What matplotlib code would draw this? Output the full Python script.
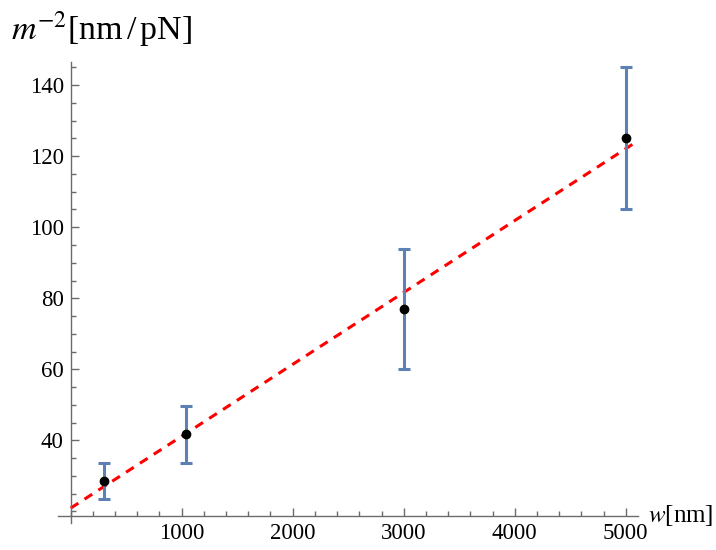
import matplotlib
matplotlib.use("Agg")
import matplotlib.pyplot as plt
from matplotlib.ticker import MultipleLocator

plt.rcParams["font.family"] = ["Liberation Serif", "DejaVu Serif"]
plt.rcParams["mathtext.fontset"] = "stix"

# measured points (w in nm, m^-2 in nm/pN) with error half-widths
w = [300, 1040, 3000, 5000]
m2 = [28.6, 41.7, 77.0, 125.2]
m2_err = [5.0, 8.0, 17.0, 20.0]

# linear fit endpoints
fit_w = [0, 5108]
fit_m2 = [20.9, 124.3]

x_ticks = [1000, 2000, 3000, 4000, 5000]
y_ticks = [40, 60, 80, 100, 120, 140]

axis_col = "#6b6b6b"
bar_col = "#5e81b5"

fig = plt.figure(figsize=(7.16, 5.5), dpi=100)
ax = fig.add_axes([0.081, 0.049, 0.8097, 0.8387])

ax.plot(fit_w, fit_m2, color="red", lw=2.2, ls=(0, (3.0, 2.4)), zorder=2)
ax.errorbar(w, m2, yerr=m2_err, fmt="none", ecolor=bar_col, elinewidth=2.2,
            capsize=4.5, capthick=2.2, zorder=3)
ax.plot(w, m2, "o", color="black", ms=6, zorder=4)

ax.set_xlim(-114, 5108)
ax.set_ylim(16.7, 146.6)

# Mathematica-style axes crossing at (0, 18.8)
for s in ["top", "right"]:
    ax.spines[s].set_visible(False)
ax.spines["left"].set_position(("data", 0))
ax.spines["bottom"].set_position(("data", 18.8))
for s in ["left", "bottom"]:
    ax.spines[s].set_color(axis_col)
    ax.spines[s].set_linewidth(1.0)

ax.set_xticks(x_ticks)
ax.set_yticks(y_ticks)
ax.xaxis.set_minor_locator(MultipleLocator(200))
ax.yaxis.set_minor_locator(MultipleLocator(5))
ax.tick_params(which="both", direction="in", color=axis_col, width=1.0,
               labelsize=16.5, colors="black")
ax.tick_params(which="both", axis="both", color=axis_col)
ax.tick_params(which="major", length=6, pad=5)
ax.tick_params(which="minor", length=3.5)

fig.text(0.015, 0.947, r"$m^{-2}$[nm$\,$/$\,$pN]", fontsize=24.5, va="center", ha="left")
fig.text(0.905, 0.062, r"$w$[nm]", fontsize=18, va="center", ha="left")

fig.savefig("out.png", dpi=100)
